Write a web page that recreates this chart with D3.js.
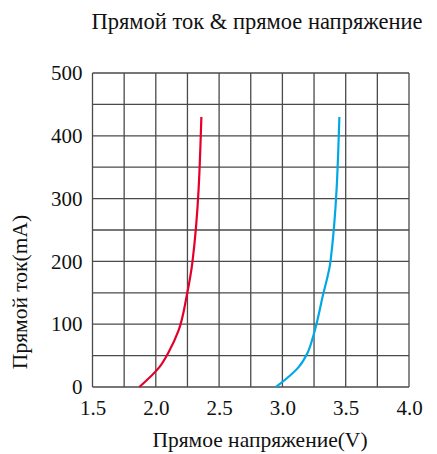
<!DOCTYPE html>
<html><head><meta charset="utf-8">
<script src="https://cdn.jsdelivr.net/npm/d3@7"></script>
<style>body{margin:0;background:#fff}svg{display:block}svg text{font-family:"Liberation Serif","Times New Roman",serif !important}</style>
</head><body><svg id="c" width="437" height="454"></svg>
<script>
const title = "Прямой ток & прямое напряжение";
const xLabel = "Прямое напряжение(V)";
const yLabel = "Прямой ток(mA)";
const xTicks = [1.5, 2.0, 2.5, 3.0, 3.5, 4.0];
const yTicks = [0, 100, 200, 300, 400, 500];
const redV = [1.87, 2.03, 2.10, 2.18, 2.245, 2.29, 2.36];
const redI = [0, 32, 55, 90, 146, 200, 430];
const blueV = [2.95, 3.13, 3.20, 3.245, 3.32, 3.38, 3.45];
const blueI = [0, 32, 55, 82, 146, 200, 430];

const FONT = "Liberation Serif";
const svg = d3.select("#c");
const x = d3.scaleLinear().domain([1.5, 4.0]).range([92.5, 409]);
const y = d3.scaleLinear().domain([0, 500]).range([387, 73]);
const g = svg.append("g");
const grid = "#4a4a4a";
g.selectAll(".vg").data(d3.range(1.5, 4.0001, 0.25)).enter().append("line")
  .attr("x1", d => x(d)).attr("x2", d => x(d)).attr("y1", y(0)).attr("y2", y(500))
  .attr("stroke", grid).attr("stroke-width", 1.3);
g.selectAll(".hg").data(d3.range(0, 500.1, 50)).enter().append("line")
  .attr("y1", d => y(d)).attr("y2", d => y(d)).attr("x1", x(1.5)).attr("x2", x(4.0))
  .attr("stroke", grid).attr("stroke-width", 1.3);

const xa = svg.append("g").attr("transform", `translate(0,${y(0)})`)
  .call(d3.axisBottom(x).tickValues(xTicks).tickFormat(d3.format(".1f")).tickSize(0).tickPadding(0))
  .attr("font-family", FONT).attr("font-size", 21);
xa.select(".domain").remove();
xa.selectAll("text").attr("dy", null).attr("y", 28).attr("fill", "#111");
const ya = svg.append("g").attr("transform", `translate(${x(1.5)},0)`)
  .call(d3.axisLeft(y).tickValues(yTicks).tickSize(0).tickPadding(10))
  .attr("font-family", FONT).attr("font-size", 21);
ya.select(".domain").remove();
ya.selectAll("text").attr("fill", "#111");

const line = d3.line().x(d => x(d[0])).y(d => y(d[1])).curve(d3.curveMonotoneY);
svg.append("path").datum(redV.map((v, i) => [v, redI[i]]))
  .attr("d", line).attr("fill", "none").attr("stroke", "#e4002b").attr("stroke-width", 2.2);
svg.append("path").datum(blueV.map((v, i) => [v, blueI[i]]))
  .attr("d", line).attr("fill", "none").attr("stroke", "#00a9e6").attr("stroke-width", 2.2);

svg.append("text").attr("x", 257).attr("y", 28.5).attr("text-anchor", "middle")
  .attr("font-size", 22.5).attr("fill", "#111").text(title);
svg.append("text").attr("x", 260).attr("y", 447).attr("text-anchor", "middle")
  .attr("font-size", 21.5).attr("fill", "#111").text(xLabel);
svg.append("text").attr("transform", "translate(27,292) rotate(-90)").attr("text-anchor", "middle")
  .attr("font-size", 21.5).attr("fill", "#111").text(yLabel);
</script></body></html>
